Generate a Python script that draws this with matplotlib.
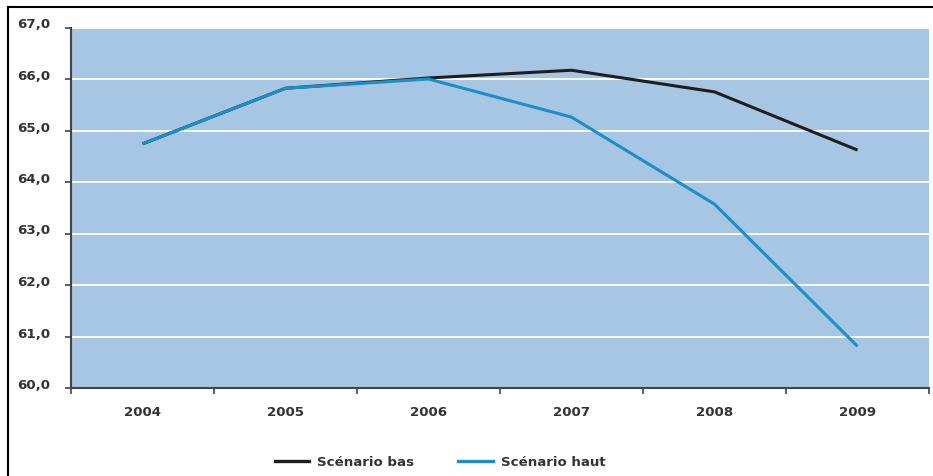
import matplotlib
matplotlib.use("Agg")
import matplotlib.pyplot as plt
import matplotlib.transforms as mtransforms
from matplotlib.lines import Line2D

plt.rcParams['font.family'] = ['DejaVu Sans']

years = ["2004", "2005", "2006", "2007", "2008", "2009"]
scenario_bas = [64.74, 65.82, 66.02, 66.17, 65.75, 64.62]
scenario_haut = [64.74, 65.82, 66.00, 65.26, 63.57, 60.81]
y_ticks = [60, 61, 62, 63, 64, 65, 66, 67]
y_labels = ["60,0", "61,0", "62,0", "63,0", "64,0", "65,0", "66,0", "67,0"]

bg = "#A6C6E4"
blue = "#1B8FC6"
black = "#1E1E1E"
txt = "#333333"
axis_col = "#444444"
fs = 9.6

W, H = 933, 476
fig = plt.figure(figsize=(W / 100, H / 100), dpi=100)
ax = fig.add_axes([71 / W, 1 - 388 / H, (929 - 71) / W, (388 - 27.5) / H])
ax.set_facecolor(bg)

x = list(range(len(years)))
ax.plot(x, scenario_bas, color=black, lw=2.2, solid_capstyle='butt', zorder=3)
ax.plot(x, scenario_haut, color=blue, lw=2.2, solid_capstyle='butt', zorder=4)

ax.set_ylim(60, 67)
ax.set_yticks(y_ticks)
ax.set_yticklabels(y_labels)
ax.set_xlim(-0.5, len(years) - 0.5)
ax.set_xticks([i - 0.5 for i in range(len(years) + 1)])
ax.set_xticklabels([])
ax.set_xticks(x, minor=True)
ax.set_xticklabels(years, minor=True)

ax.grid(axis='y', color='white', lw=1.3)
ax.set_axisbelow(True)

for s in ['top', 'right']:
    ax.spines[s].set_visible(False)
for s in ['left', 'bottom']:
    ax.spines[s].set_color(axis_col)
    ax.spines[s].set_linewidth(1.5)

ax.tick_params(axis='y', which='major', direction='out', length=4, width=1.2,
               color=axis_col, pad=10.8, labelsize=fs, labelcolor=txt)
ax.tick_params(axis='x', which='major', direction='out', length=4, width=1.2,
               color=axis_col)
ax.tick_params(axis='x', which='minor', length=0, pad=13, labelsize=fs,
               labelcolor=txt)

# y labels sit slightly above their ticks
lift = mtransforms.ScaledTranslation(0, 4 / 100, fig.dpi_scale_trans)
for lab in ax.get_yticklabels():
    lab.set_fontweight('bold')
    lab.set_transform(lab.get_transform() + lift)
for lab in ax.get_xticklabels(minor=True):
    lab.set_fontweight('bold')

handles = [Line2D([], [], color=black, lw=2.4),
           Line2D([], [], color=blue, lw=2.4)]
fig.legend(handles, ["Scénario bas", "Scénario haut"], ncol=2, frameon=False,
           loc='center', bbox_to_anchor=(440 / W, 1 - 462 / H),
           prop={'weight': 'bold', 'size': fs}, labelcolor=txt,
           handlelength=2.6, columnspacing=3.3, handletextpad=0.6)

# outer frame: top and left rules
fig.add_artist(Line2D([8 / W, 1], [1 - 6.5 / H, 1 - 6.5 / H], color='black',
                      lw=1.5, transform=fig.transFigure))
fig.add_artist(Line2D([8 / W, 8 / W], [0, 1 - 6.5 / H], color='black',
                      lw=1.5, transform=fig.transFigure))

fig.savefig("out.png", dpi=100)
